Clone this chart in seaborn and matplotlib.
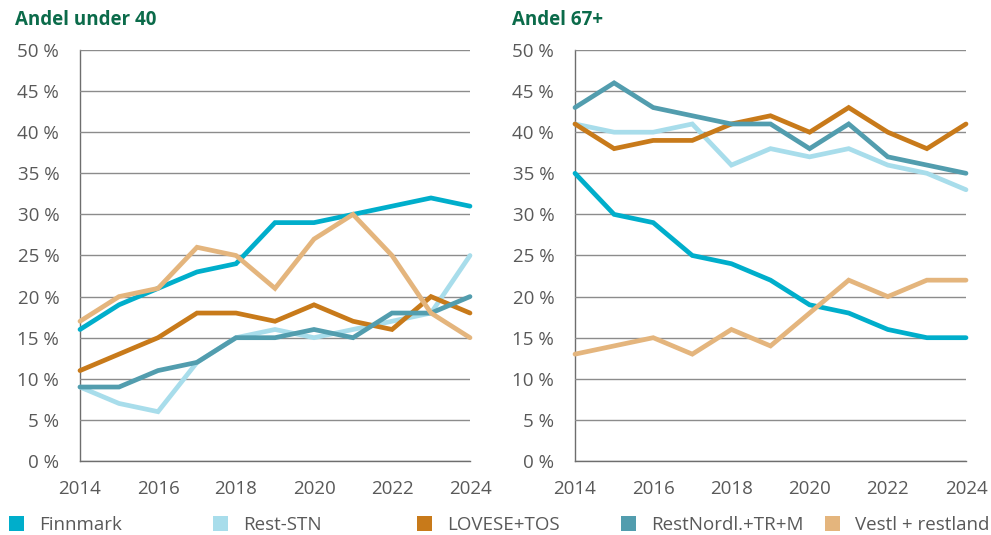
import seaborn as sns
import matplotlib.pyplot as plt
import pandas as pd
from matplotlib.patches import Patch
from matplotlib.ticker import FuncFormatter

# -----------------------------------------------------------
# data

aar = list(range(2014, 2025))
regioner = ["Finnmark", "Rest-STN", "LOVESE+TOS", "RestNordl.+TR+M", "Vestl + restland"]
farger = ["#00AECB", "#A8DDEB", "#C87A1A", "#529DAE", "#E4B57D"]

# Andel under 40
under40_finnmark = [16, 19, 21, 23, 24, 29, 29, 30, 31, 32, 31]
under40_reststn = [9, 7, 6, 12, 15, 16, 15, 16, 17, 18, 25]
under40_lovese = [11, 13, 15, 18, 18, 17, 19, 17, 16, 20, 18]
under40_restnordl = [9, 9, 11, 12, 15, 15, 16, 15, 18, 18, 20]
under40_vestl = [17, 20, 21, 26, 25, 21, 27, 30, 25, 18, 15]

# Andel 67+
over67_finnmark = [35, 30, 29, 25, 24, 22, 19, 18, 16, 15, 15]
over67_reststn = [41, 40, 40, 41, 36, 38, 37, 38, 36, 35, 33]
over67_lovese = [41, 38, 39, 39, 41, 42, 40, 43, 40, 38, 41]
over67_restnordl = [43, 46, 43, 42, 41, 41, 38, 41, 37, 36, 35]
over67_vestl = [13, 14, 15, 13, 16, 14, 18, 22, 20, 22, 22]


def lag_tabell(serier):
    rader = []
    for region, verdier in zip(regioner, serier):
        for a, v in zip(aar, verdier):
            rader.append({"aar": a, "andel": v, "region": region})
    return pd.DataFrame(rader)


df_under40 = lag_tabell([under40_finnmark, under40_reststn, under40_lovese,
                         under40_restnordl, under40_vestl])
df_67 = lag_tabell([over67_finnmark, over67_reststn, over67_lovese,
                    over67_restnordl, over67_vestl])

sns.set_style("white")
plt.rcParams['font.family'] = ['Open Sans', 'DejaVu Sans']

tekstfarge = "#595959"
gridfarge = "#8C8C8C"
aksefarge = "#6E6E6E"
storrelse = 13.5
palett = dict(zip(regioner, farger))

fig = plt.figure(figsize=(9.91, 5.35), dpi=100)
ax1 = fig.add_axes([80 / 991, 1 - 461 / 535, 390 / 991, 411 / 535])
ax2 = fig.add_axes([575 / 991, 1 - 461 / 535, 391 / 991, 411 / 535])


def tegn_panel(ax, data):
    sns.lineplot(data=data, x="aar", y="andel", hue="region", hue_order=regioner,
                 palette=palett, linewidth=3.4, ax=ax, legend=False)
    for linje in ax.get_lines():
        linje.set_clip_on(False)
        linje.set_solid_joinstyle("miter")
    ax.set_xlim(2014, 2024)
    ax.set_ylim(0, 50)
    ax.set_xticks(range(2014, 2025, 2))
    ax.set_yticks(range(0, 51, 5))
    ax.yaxis.set_major_formatter(FuncFormatter(lambda v, p: f"{int(v)} %"))
    ax.grid(axis="y", color=gridfarge, linewidth=1)
    ax.set_axisbelow(True)
    for side in ["top", "right"]:
        ax.spines[side].set_visible(False)
    for side in ["left", "bottom"]:
        ax.spines[side].set_color(aksefarge)
        ax.spines[side].set_linewidth(1)
        ax.spines[side].set_zorder(0.5)
    ax.tick_params(axis="both", colors=tekstfarge, labelsize=storrelse,
                   length=6, width=1, direction="out")
    ax.tick_params(axis="x", color=aksefarge, pad=8)
    ax.tick_params(axis="y", color=gridfarge, pad=9)
    ax.set_xlabel("")
    ax.set_ylabel("")


tegn_panel(ax1, df_under40)
tegn_panel(ax2, df_67)

fig.text(15 / 991, 1 - 20 / 535, "Andel under 40", fontsize=storrelse, fontweight="bold",
         color="#0B6B4A", va="center", ha="left")
fig.text(512 / 991, 1 - 20 / 535, "Andel 67+", fontsize=storrelse, fontweight="bold",
         color="#0B6B4A", va="center", ha="left")

# legend items placed at fixed, evenly spaced positions
legend_x = [9, 213, 417, 621, 825]
for x, navn, farge in zip(legend_x, regioner, farger):
    fig.legend([Patch(facecolor=farge, edgecolor="none")], [navn],
               loc="center left", bbox_to_anchor=(x / 991, 1 - 525 / 535),
               frameon=False, fontsize=storrelse, handlelength=0.8,
               handleheight=0.8, handletextpad=0.8, labelcolor=tekstfarge,
               borderpad=0, borderaxespad=0)

plt.savefig("out.png", dpi=100)
